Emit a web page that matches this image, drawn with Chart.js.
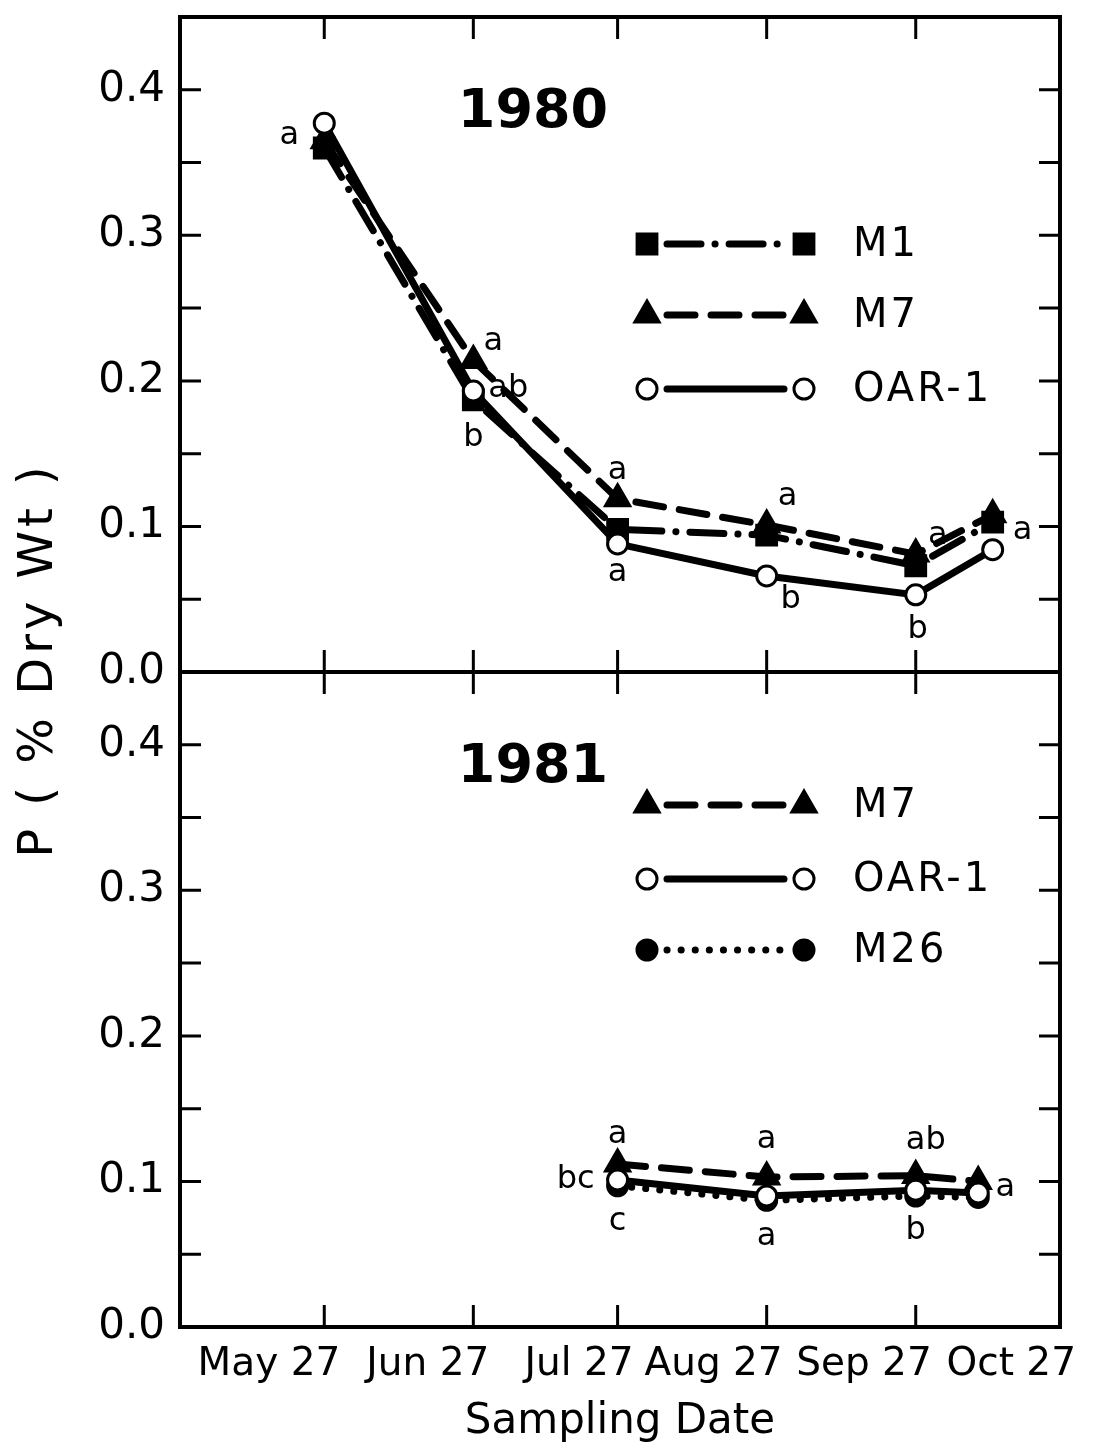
<!DOCTYPE html>
<html lang="en">
<head>
<meta charset="UTF-8">
<title>P (% Dry Wt) by sampling date, 1980 and 1981</title>
<script src="https://cdn.jsdelivr.net/npm/chart.js"></script>
<style>
  body { margin: 0; background: #fff; }
  .chart-wrap { width: 1095px; height: 1451px; position: relative; }
</style>
</head>
<body>
<div class="chart-wrap"><canvas id="pChart"></canvas></div>
<script>
// x axis: days after May 27
const dateLabels = ['May 27', 'Jun 27', 'Jul 27', 'Aug 27', 'Sep 27', 'Oct 27'];
const dateDays = [0, 31, 61, 92, 123, 153];

// 1980 samples
const days1980 = [0, 31, 61, 92, 123, 139];
const m1_1980 = [0.360, 0.187, 0.098, 0.094, 0.073, 0.103];
const m7_1980 = [0.365, 0.214, 0.119, 0.101, 0.081, 0.108];
const oar_1980 = [0.377, 0.193, 0.088, 0.066, 0.053, 0.084];

// 1981 samples
const days1981 = [61, 92, 123, 136];
const m7_1981 = [0.112, 0.103, 0.104, 0.100];
const oar_1981 = [0.101, 0.090, 0.094, 0.092];
const m26_1981 = [0.097, 0.087, 0.090, 0.089];

// significance letters: [series, point, letter]
const letters1980 = [
  ['OAR-1', 0, 'a'], ['M7', 1, 'a'], ['OAR-1', 1, 'ab'], ['M1', 1, 'b'],
  ['M7', 2, 'a'], ['OAR-1', 2, 'a'], ['M7', 3, 'a'], ['OAR-1', 3, 'b'],
  ['M7', 4, 'a'], ['OAR-1', 4, 'b'], ['M1', 5, 'a']
];
const letters1981 = [
  ['M7', 0, 'a'], ['OAR-1', 0, 'bc'], ['OAR-1', 0, 'c'], ['M7', 1, 'a'], ['OAR-1', 1, 'a'],
  ['M7', 2, 'ab'], ['OAR-1', 2, 'b'], ['OAR-1', 3, 'a']
];
// where each letter sits relative to its point (px)
const letterOffsets1980 = [[-35, 12], [20, -19], [35, -2], [0, 38], [0, -28], [0, 29], [21, -28], [24, 24], [22, -18], [2, 35], [30, 9]];
const letterOffsets1981 = [[0, -29], [-42, 0], [0, 42], [0, -37], [0, 41], [10, -35], [0, 41], [27, -5]];

const FONT = "'DejaVu Sans', 'Liberation Sans', sans-serif";

const styles = {
  'M1':    { pointStyle: 'rect', pointRadius: 14, fill: '#000', dash: [34, 14, 0.1, 14] },
  'M7':    { pointStyle: 'triangle', pointRadius: 14, fill: '#000', dash: [28, 16] },
  'OAR-1': { pointStyle: 'circle', pointRadius: 10, fill: '#fff', dash: [] },
  'M26':   { pointStyle: 'circle', pointRadius: 10, fill: '#000', dash: [0.1, 14] }
};
const drawOrder = { 'OAR-1': 0, 'M7': 1, 'M26': 2, 'M1': 3 };

function series(name, panel, xs, ys) {
  const st = styles[name];
  return {
    label: name,
    panel: panel,
    yAxisID: panel === 1980 ? 'yTop' : 'yBot',
    data: xs.map((x, i) => ({ x: x, y: ys[i] })),
    borderColor: '#000',
    borderWidth: 7,
    borderDash: st.dash,
    borderCapStyle: 'round',
    pointStyle: st.pointStyle,
    pointRadius: st.pointRadius,
    pointBackgroundColor: st.fill,
    pointBorderColor: '#000',
    pointBorderWidth: 3,
    tension: 0,
    order: drawOrder[name]
  };
}

const datasets = [
  series('M1', 1980, days1980, m1_1980),
  series('M7', 1980, days1980, m7_1980),
  series('OAR-1', 1980, days1980, oar_1980),
  series('M7', 1981, days1981, m7_1981),
  series('OAR-1', 1981, days1981, oar_1981),
  series('M26', 1981, days1981, m26_1981)
];

function marker(ctx, name, x, y) {
  const st = styles[name];
  ctx.save();
  ctx.setLineDash([]);
  ctx.fillStyle = st.fill;
  ctx.strokeStyle = '#000';
  ctx.lineWidth = 3;
  ctx.beginPath();
  if (st.pointStyle === 'rect') {
    const h = st.pointRadius * Math.SQRT1_2;
    ctx.rect(x - h, y - h, 2 * h, 2 * h);
  } else if (st.pointStyle === 'triangle') {
    const r = st.pointRadius;
    ctx.moveTo(x, y - r);
    ctx.lineTo(x + r * 0.866, y + r * 0.5);
    ctx.lineTo(x - r * 0.866, y + r * 0.5);
    ctx.closePath();
  } else {
    ctx.arc(x, y, st.pointRadius, 0, Math.PI * 2);
  }
  ctx.fill();
  ctx.stroke();
  ctx.restore();
}

const panelDecor = {
  id: 'panelDecor',
  afterDraw(chart) {
    const ctx = chart.ctx;
    const xs = chart.scales.x;
    const { left, right } = chart.chartArea;
    ctx.save();
    ctx.strokeStyle = '#000';
    ctx.fillStyle = '#000';

    const panels = [
      { id: 'yTop', year: '1980', names: ['M1', 'M7', 'OAR-1'], rows: [227, 298, 372], letters: letters1980, offs: letterOffsets1980 },
      { id: 'yBot', year: '1981', names: ['M7', 'OAR-1', 'M26'], rows: [133, 207, 278], letters: letters1981, offs: letterOffsets1981 }
    ];

    panels.forEach(p => {
      const s = chart.scales[p.id];
      const top = s.top, bottom = s.bottom;
      // frame
      ctx.lineWidth = 4;
      ctx.strokeRect(left, top, right - left, bottom - top);
      // inward ticks
      ctx.lineWidth = 3;
      ctx.beginPath();
      s.ticks.forEach(t => {
        const py = s.getPixelForValue(t.value);
        if (py < top + 3 || py > bottom - 3) return;
        ctx.moveTo(left, py); ctx.lineTo(left + 21, py);
        ctx.moveTo(right, py); ctx.lineTo(right - 21, py);
      });
      dateDays.forEach(d => {
        const px = xs.getPixelForValue(d);
        if (px > right - 3) return;
        ctx.moveTo(px, bottom); ctx.lineTo(px, bottom - 22);
        ctx.moveTo(px, top); ctx.lineTo(px, top + 22);
      });
      ctx.stroke();

      // year
      ctx.font = 'bold 54px ' + FONT;
      ctx.textAlign = 'center';
      ctx.textBaseline = 'middle';
      ctx.fillText(p.year, left + 353, top + 96);

      // legend
      p.names.forEach((name, i) => {
        const y = top + p.rows[i];
        const x1 = left + 467, x2 = left + 624;
        ctx.save();
        ctx.lineWidth = 7;
        ctx.lineCap = 'round';
        ctx.setLineDash(styles[name].dash);
        ctx.beginPath();
        ctx.moveTo(x1 + 20, y);
        ctx.lineTo(x2 - 20, y);
        ctx.stroke();
        ctx.restore();
        marker(ctx, name, x1, y);
        marker(ctx, name, x2, y);
        ctx.save();
        ctx.font = '40px ' + FONT;
        ctx.letterSpacing = '3px';
        ctx.textAlign = 'left';
        ctx.textBaseline = 'middle';
        ctx.fillText(name, left + 673, y + 2);
        ctx.restore();
      });

      // significance letters
      ctx.font = '32px ' + FONT;
      ctx.textAlign = 'center';
      ctx.textBaseline = 'middle';
      p.letters.forEach((l, i) => {
        const dsIndex = chart.data.datasets.findIndex(d => d.label === l[0] && d.yAxisID === p.id);
        const pt = chart.getDatasetMeta(dsIndex).data[l[1]];
        ctx.fillText(l[2], pt.x + p.offs[i][0], pt.y + p.offs[i][1]);
      });
    });

    // y title
    ctx.save();
    ctx.translate(40, 660);
    ctx.rotate(-Math.PI / 2);
    ctx.font = '48px ' + FONT;
    ctx.letterSpacing = '4px';
    ctx.textAlign = 'center';
    ctx.textBaseline = 'middle';
    ctx.fillText('P ( % Dry Wt )', 0, 0);
    ctx.restore();

    ctx.restore();
  }
};

function yAxis(weight) {
  return {
    type: 'linear',
    position: 'left',
    stack: 'panels',
    stackWeight: 1,
    weight: weight,
    min: 0,
    max: 0.45,
    grid: { display: false, drawTicks: false },
    border: { display: false },
    afterFit: s => { s.width = 180; s.paddingTop = 0; s.paddingBottom = 0; },
    ticks: {
      stepSize: 0.05,
      autoSkip: false,
      padding: 15,
      color: '#000',
      font: { family: FONT, size: 42 },
      callback: v => {
        const t = Math.round(v * 100);
        return (t % 10 === 0 && t <= 40) ? (t / 100).toFixed(1) : '';
      }
    }
  };
}

new Chart(document.getElementById('pChart'), {
  type: 'line',
  data: { datasets: datasets },
  options: {
    responsive: true,
    maintainAspectRatio: false,
    animation: false,
    layout: { padding: { top: -2, right: 35, left: 0, bottom: 0 } },
    plugins: { legend: { display: false }, tooltip: { enabled: false } },
    scales: {
      x: {
        type: 'linear',
        min: -30,
        max: 153,
        grid: { display: false, drawTicks: false },
        border: { display: false },
        afterFit: s => { s.height = 124; },
        afterBuildTicks: s => { s.ticks = dateDays.map(v => ({ value: v })); },
        ticks: {
          autoSkip: false,
          maxRotation: 0,
          minRotation: 0,
          align: 'end',
          labelOffset: 16,
          padding: 14,
          color: '#000',
          font: { family: FONT, size: 39 },
          callback: v => dateLabels[dateDays.indexOf(v)]
        },
        title: {
          display: true,
          text: 'Sampling Date',
          color: '#000',
          font: { family: FONT, size: 42 },
          padding: { top: 0, bottom: 4 }
        }
      },
      yTop: yAxis(1),
      yBot: yAxis(0)
    }
  },
  plugins: [panelDecor]
});
</script>
</body>
</html>
